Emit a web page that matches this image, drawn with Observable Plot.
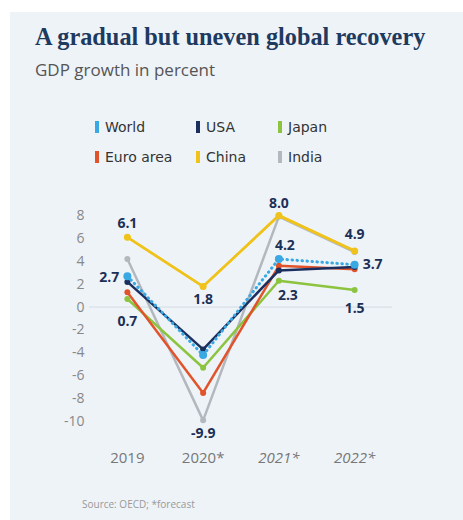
<!DOCTYPE html>
<html><head><meta charset="utf-8">
<script src="https://cdn.jsdelivr.net/npm/d3@7"></script>
<script src="https://cdn.jsdelivr.net/npm/@observablehq/plot@0.6"></script>
<style>
body{margin:0;background:#fff;}
#wrap{position:relative;width:463px;height:520px;overflow:hidden;font-family:"Open Sans",sans-serif;}
#panel{position:absolute;left:10px;top:12px;width:453px;height:508px;background:#eef3f8;}
#title{position:absolute;left:35px;top:23px;font:bold 24.3px "Liberation Serif",serif;color:#1e3a5f;white-space:nowrap;}
#subtitle{position:absolute;left:35px;top:58px;font-size:17px;color:#555;white-space:nowrap;}
#legend{position:absolute;left:95px;top:117px;display:grid;grid-template-columns:101px 82px 90px;row-gap:10px;font:14px "DejaVu Sans",sans-serif;color:#333;}
.item{display:flex;align-items:center;height:20px;white-space:nowrap;}
.sw{width:4px;height:12px;margin-right:6px;}
#chart{position:absolute;left:10px;top:180px;}
#source{position:absolute;left:82px;top:497px;font-size:10px;color:#999;white-space:nowrap;}
</style></head>
<body>
<div id="wrap">
  <div id="panel"></div>
  <div id="title">A gradual but uneven global recovery</div>
  <div id="subtitle">GDP growth in percent</div>
  <div id="legend"></div>
  <div id="chart"></div>
  <div id="source">Source: OECD; *forecast</div>
</div>
<script>
// ---- data ----
const years = [2019, 2020, 2021, 2022];
const yearLabels = ["2019", "2020*", "2021*", "2022*"];
const seriesNames = ["World", "USA", "Japan", "Euro area", "China", "India"];
const seriesColors = ["#3aa8e2", "#1b2f5e", "#8cc43f", "#e1532b", "#f0c31c", "#b3b8be"];
const world = [2.7, -4.2, 4.2, 3.7];
const usa = [2.2, -3.7, 3.2, 3.5];
const japan = [0.7, -5.3, 2.3, 1.5];
const euroArea = [1.3, -7.5, 3.6, 3.3];
const china = [6.1, 1.8, 8.0, 4.9];
const india = [4.2, -9.9, 7.9, 4.8];
const yTicks = [8, 6, 4, 2, 0, -2, -4, -6, -8, -10];

const valuesBySeries = {"World": world, "USA": usa, "Japan": japan, "Euro area": euroArea, "China": china, "India": india};
const drawOrder = ["India", "Japan", "Euro area", "USA", "World", "China"];
const rows = drawOrder.flatMap(s => years.map((y, i) => ({series: s, year: y, value: valuesBySeries[s][i]})));
const lookup = (s, y) => valuesBySeries[s][years.indexOf(y)];

// label placement (rendering config)
const labelPlacement = [
  {series: "China", year: 2019, dx: 0, dy: -14, anchor: "middle"},
  {series: "World", year: 2019, dx: -8, dy: 1, anchor: "end"},
  {series: "Japan", year: 2019, dx: 0, dy: 22, anchor: "middle"},
  {series: "China", year: 2020, dx: 0, dy: 13, anchor: "middle"},
  {series: "India", year: 2020, dx: 0, dy: 13, anchor: "middle"},
  {series: "China", year: 2021, dx: 0, dy: -12, anchor: "middle"},
  {series: "World", year: 2021, dx: 6, dy: -13, anchor: "middle"},
  {series: "Japan", year: 2021, dx: 9, dy: 15, anchor: "middle"},
  {series: "China", year: 2022, dx: 0, dy: -16, anchor: "middle"},
  {series: "World", year: 2022, dx: 8, dy: 0, anchor: "start"},
  {series: "Japan", year: 2022, dx: 0, dy: 19, anchor: "middle"}
];

// legend
const legendOrder = ["World", "USA", "Japan", "Euro area", "China", "India"];
const legend = document.getElementById("legend");
legendOrder.forEach(s => {
  const c = seriesColors[seriesNames.indexOf(s)];
  const el = document.createElement("div");
  el.className = "item";
  el.innerHTML = `<span class="sw" style="background:${c}"></span><span>${s}</span>`;
  legend.appendChild(el);
});

const labelMarks = labelPlacement.map(p => Plot.text([{year: p.year, value: lookup(p.series, p.year)}], {
  x: "year", y: "value", text: d => d.value.toFixed(1), dx: p.dx, dy: p.dy, textAnchor: p.anchor,
  fontSize: 14, fontWeight: "bold", fill: "#1c2f55"
}));

const xLab = years.map((y, i) => ({year: y, label: yearLabels[i], italic: i >= 2}));

const chart = Plot.plot({
  width: 453, height: 300,
  marginLeft: 79, marginRight: 71, marginTop: 35, marginBottom: 59,
  style: {background: "transparent", fontFamily: "Open Sans", overflow: "visible"},
  x: {domain: [2018.5, 2022.5], axis: null},
  y: {domain: [-10, 8], axis: null},
  color: {domain: seriesNames, range: seriesColors},
  marks: [
    Plot.ruleY([0], {stroke: "#d6dce2", strokeWidth: 1}),
    Plot.axisY({ticks: yTicks, tickSize: 0, tickPadding: 5, tickFormat: d => String(d), fontSize: 14, fill: "#888", label: null}),
    Plot.line(rows.filter(d => d.series !== "World"), {x: "year", y: "value", z: "series", stroke: "series", strokeWidth: 2.5, strokeLinejoin: "round"}),
    Plot.dot(rows.filter(d => d.series !== "World"), {x: "year", y: "value", fill: "series", r: 3}),
    Plot.line(rows.filter(d => d.series === "World"), {x: "year", y: "value", stroke: "series", strokeWidth: 3, strokeDasharray: "0.5,4.5", strokeLinecap: "round"}),
    Plot.dot(rows.filter(d => d.series === "World"), {x: "year", y: "value", fill: "series", r: 4}),
    Plot.line(rows.filter(d => d.series === "China"), {x: "year", y: "value", stroke: "series", strokeWidth: 2.5, strokeLinejoin: "round"}),
    Plot.dot(rows.filter(d => d.series === "China"), {x: "year", y: "value", fill: "series", r: 3.5}),
    ...labelMarks,
    Plot.text(xLab.filter(d => !d.italic), {x: "year", text: "label", frameAnchor: "bottom", dy: 41, fontSize: 15, fill: "#777"}),
    Plot.text(xLab.filter(d => d.italic), {x: "year", text: "label", frameAnchor: "bottom", dy: 41, fontSize: 15, fill: "#777", fontStyle: "italic"})
  ]
});
document.getElementById("chart").appendChild(chart);
</script>
</body></html>
